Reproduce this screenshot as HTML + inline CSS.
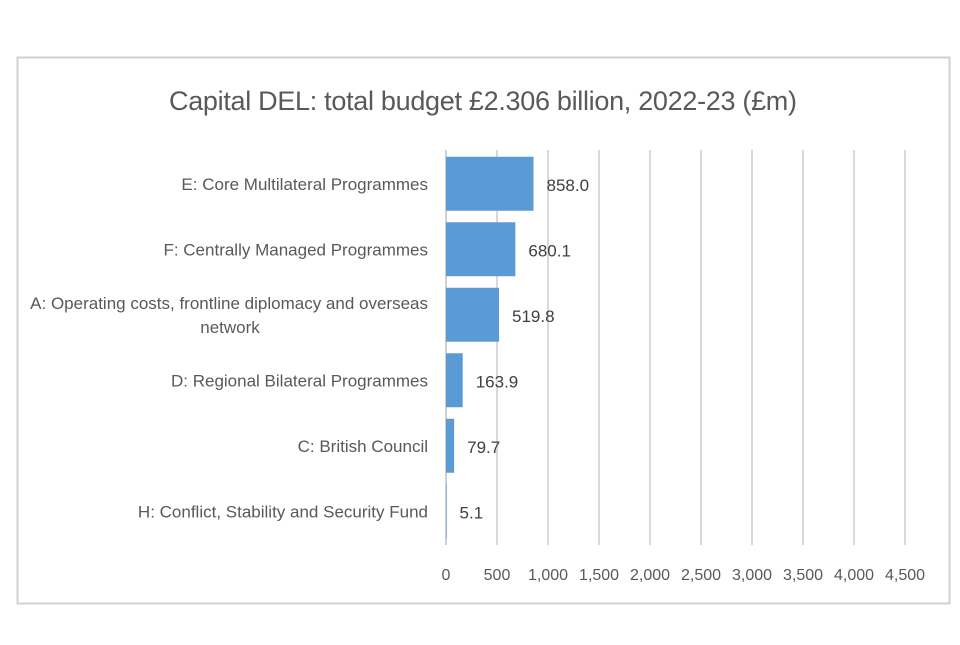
<!DOCTYPE html>
<html><head><meta charset="utf-8"><style>
body{margin:0;background:#fff;width:960px;height:640px;overflow:hidden;font-family:"Liberation Sans",sans-serif}
svg text{font-family:"Liberation Sans",sans-serif}
</style></head><body>
<svg width="960" height="640">
<rect x="17.5" y="57.5" width="932" height="546" fill="#fff" stroke="#d0d0d0" stroke-width="2"/>
<text x="483" y="110" font-size="27" fill="#595959" text-anchor="middle" textLength="628">Capital DEL: total budget £2.306 billion, 2022-23 (£m)</text>
<g id="grid"></g><g id="bars"></g><g id="labels"></g>
</svg>
<script>
const categories=["E: Core Multilateral Programmes","F: Centrally Managed Programmes","A: Operating costs, frontline diplomacy and overseas|network","D: Regional Bilateral Programmes","C: British Council","H: Conflict, Stability and Security Fund"];
const values=[858.0,680.1,519.8,163.9,79.7,5.1];
const valueLabels=["858.0","680.1","519.8","163.9","79.7","5.1"];
const ticks=[0,500,1000,1500,2000,2500,3000,3500,4000,4500];
const tickLabels=["0","500","1,000","1,500","2,000","2,500","3,000","3,500","4,000","4,500"];
const ns="http://www.w3.org/2000/svg";
const x0=446,x1=905,xmax=4500;
const xs=v=>x0+(x1-x0)*v/xmax;
const plotTop=151,band=65.5,bh=54;
const yc=i=>plotTop+band*i+band/2;
function mk(t,a,p){const e=document.createElementNS(ns,t);for(const k in a)e.setAttribute(k,a[k]);p.appendChild(e);return e;}
const g=document.getElementById('grid'),b=document.getElementById('bars'),l=document.getElementById('labels');
ticks.forEach((t,i)=>{
 const ln=mk('line',{x1:xs(t),x2:xs(t),y1:150,y2:545,stroke:i==0?'#d0d0d0':'#d9d9d9','stroke-width':2},g);
 
 
 const tx=mk('text',{x:xs(t),y:580,'font-size':16,fill:'#595959','text-anchor':'middle'},g);
 tx.textContent=tickLabels[i];
 
 
});
categories.forEach((c,i)=>{
 const r=mk('rect',{x:x0,y:yc(i)-bh/2,width:xs(values[i])-x0,height:bh,fill:'#5b9bd5'},b);
 
 
 const v=mk('text',{x:xs(values[i])+13,y:yc(i)+7,'font-size':17,fill:'#404040'},l);
 v.textContent=valueLabels[i];
 
 
 const parts=c.split('|');
 parts.forEach((p,j)=>{
  const t=mk('text',{x:parts.length>1&&j==1?230:428,y:yc(i)+6+(j-(parts.length-1)/2)*24,'font-size':17,fill:'#595959','text-anchor':parts.length>1&&j==1?'middle':'end'},l);
  t.textContent=p;
  
  
 });
});
</script>
</body></html>
